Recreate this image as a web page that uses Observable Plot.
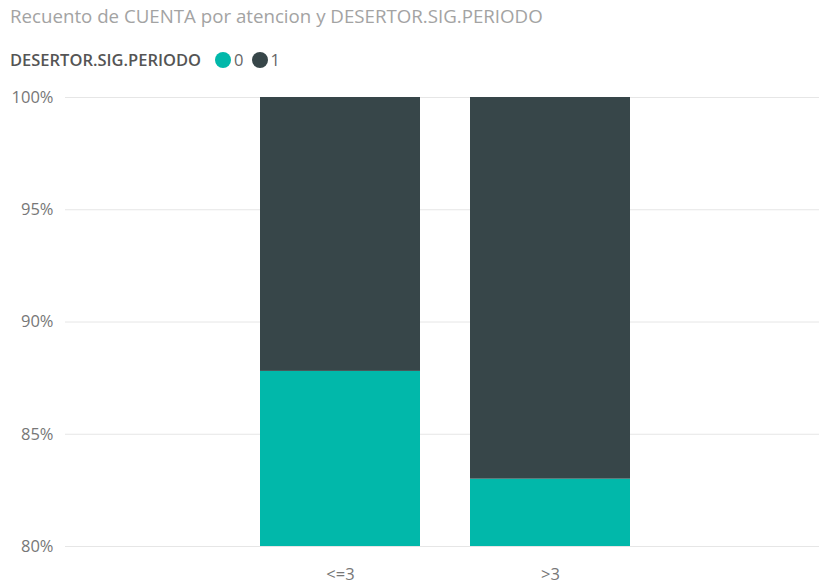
<!DOCTYPE html>
<html>
<head>
<meta charset="utf-8">
<script src="https://cdn.jsdelivr.net/npm/d3@7"></script>
<script src="https://cdn.jsdelivr.net/npm/@observablehq/plot@0.6"></script>
<style>
  body { margin: 0; background: #fff; font-family: "Open Sans", "Noto Sans", sans-serif; }
  #wrap { position: relative; width: 819px; height: 585px; overflow: hidden; }
  #title { position: absolute; left: 10px; top: 3px; font-size: 18.7px; color: #a3a3a3; white-space: nowrap; }
  #legend { position: absolute; left: 10px; top: 48px; font-size: 16.5px; color: #666; display: flex; align-items: center; white-space: nowrap; }
  #legend .lt { color: #555; font-weight: 600; margin-right: 14px; }
  #legend .sw { width: 16px; height: 16px; border-radius: 50%; display: inline-block; margin-right: 3px; }
  #legend .it { display: flex; align-items: center; margin-right: 8px; }
  #chart { position: absolute; left: 0; top: 80px; }
</style>
</head>
<body>
<div id="wrap">
  <div id="title"></div>
  <div id="legend"></div>
  <div id="chart"></div>
</div>
<script>
const titleText = "Recuento de CUENTA por atencion y DESERTOR.SIG.PERIODO";
const legendTitle = "DESERTOR.SIG.PERIODO";
const categories = ["<=3", ">3"];
const seriesKeys = ["0", "1"];
const colors = ["#01B8AA", "#374649"];
const share0 = [0.878, 0.830];
const share1 = [0.122, 0.170];
const yTicks = [0.80, 0.85, 0.90, 0.95, 1.00];

document.getElementById("title").textContent = titleText;
const leg = document.getElementById("legend");
const lt = document.createElement("span"); lt.className = "lt"; lt.textContent = legendTitle; leg.appendChild(lt);
seriesKeys.forEach((k, i) => {
  const it = document.createElement("span"); it.className = "it";
  const sw = document.createElement("span"); sw.className = "sw"; sw.style.background = colors[i];
  const tx = document.createElement("span"); tx.textContent = k;
  it.appendChild(sw); it.appendChild(tx); leg.appendChild(it);
});

const data = [];
categories.forEach((c, i) => {
  data.push({cat: c, serie: seriesKeys[0], value: share0[i]});
  data.push({cat: c, serie: seriesKeys[1], value: share1[i]});
});

const chart = Plot.plot({
  width: 819,
  height: 505,
  marginTop: 17,
  marginBottom: 39,
  marginLeft: 65,
  marginRight: 0,
  style: { fontFamily: "'Open Sans', 'Noto Sans', sans-serif", fontSize: "16.5px", color: "#777", background: "#fff" },
  x: { domain: categories, paddingInner: 0.238, paddingOuter: 0.914, align: 0.508, label: null },
  y: { domain: [0.8, 1.0], label: null },
  color: { domain: seriesKeys, range: colors },
  marks: [
    Plot.ruleY(yTicks, { stroke: "#e6e6e6", strokeWidth: 1 }),
    Plot.barY(data, Plot.stackY({ x: "cat", y: "value", fill: "serie", order: seriesKeys, clip: true })),
    Plot.axisY({ ticks: yTicks, tickFormat: d => Math.round(d * 100) + "%", tickSize: 0, tickPadding: 12, fill: "#777", fontSize: 16.5, label: null }),
    Plot.axisX({ tickSize: 0, tickPadding: 22, fill: "#777", fontSize: 16.5, label: null })
  ]
});
document.getElementById("chart").appendChild(chart);
</script>
</body>
</html>
